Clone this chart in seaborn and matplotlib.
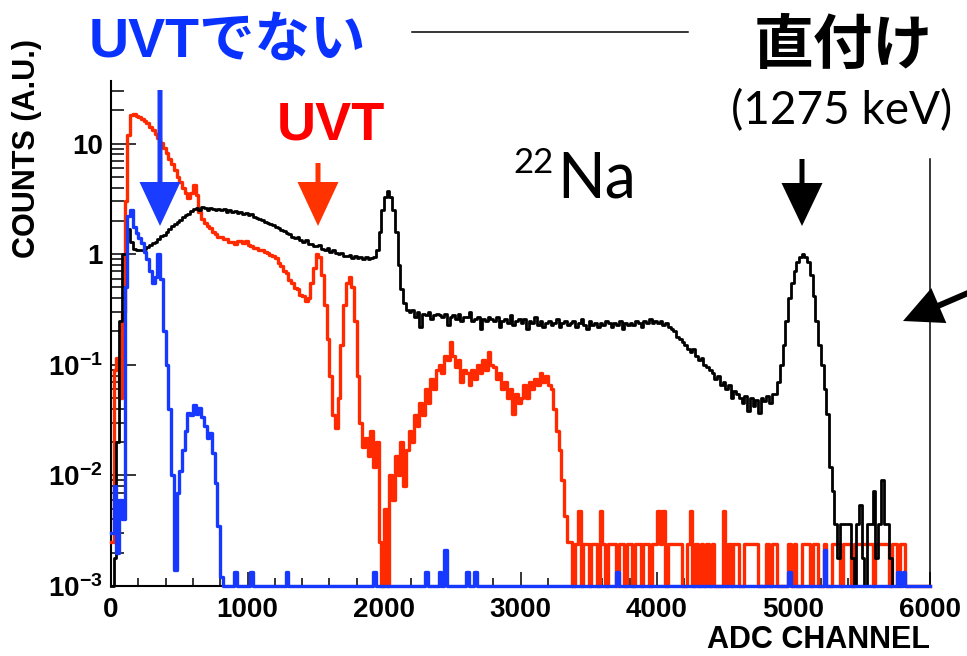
import numpy as np
import matplotlib
matplotlib.use("Agg")
import matplotlib.pyplot as plt
import seaborn as sns
from matplotlib.patches import FancyArrow
from matplotlib.lines import Line2D
from matplotlib.transforms import IdentityTransform
from matplotlib.ticker import LogLocator, NullFormatter, MultipleLocator

W, H = 967, 656
BIN = 20          # ADC channels per histogram bin
X_MAX = 6000
Y_MIN, Y_MAX = 1e-3, 36.8

# black: 22Na, direct coupling (bins of 20 channels, 0..6000)
black_counts = [
    0, 0.0018, 0.02, 0.25, 1.0, 1.0, 1.7, 1.3, 1.12, 1.1,
    1.08, 1.1, 1.12, 1.15, 1.2, 1.26, 1.3, 1.38, 1.45, 1.5,
    1.6, 1.68, 1.78, 1.88, 1.95, 2.05, 2.15, 2.25, 2.32, 2.45,
    2.55, 2.62, 2.5, 2.65, 2.6, 2.52, 2.64, 2.58, 2.5, 2.58,
    2.5, 2.56, 2.42, 2.5, 2.42, 2.47, 2.36, 2.41, 2.32, 2.36,
    2.25, 2.29, 2.16, 2.13, 2.08, 2.03, 1.96, 1.93, 1.88, 1.85,
    1.76, 1.73, 1.64, 1.61, 1.54, 1.51, 1.44, 1.41, 1.42, 1.34,
    1.3, 1.33, 1.24, 1.23, 1.19, 1.18, 1.2, 1.11, 1.1, 1.13,
    1.04, 1.08, 1.02, 1.01, 1.02, 0.97, 0.96, 0.99, 0.93, 0.96,
    0.93, 0.95, 0.91, 0.94, 0.91, 0.93, 0.95, 1.1, 1.6, 2.5,
    3.3, 3.7, 3.3, 2.5, 1.6, 0.8, 0.48, 0.36, 0.31, 0.3,
    0.31, 0.27, 0.3, 0.22, 0.29, 0.28, 0.3, 0.26, 0.28, 0.29,
    0.28, 0.27, 0.29, 0.23, 0.27, 0.28, 0.26, 0.29, 0.25, 0.27,
    0.27, 0.3, 0.25, 0.26, 0.27, 0.21, 0.26, 0.25, 0.27, 0.26,
    0.25, 0.27, 0.22, 0.25, 0.26, 0.24, 0.28, 0.23, 0.25, 0.26,
    0.24, 0.26, 0.21, 0.25, 0.24, 0.27, 0.23, 0.25, 0.22, 0.24,
    0.25, 0.23, 0.24, 0.26, 0.22, 0.24, 0.25, 0.23, 0.24, 0.25,
    0.22, 0.24, 0.26, 0.23, 0.21, 0.25, 0.23, 0.24, 0.22, 0.24,
    0.23, 0.25, 0.24, 0.22, 0.24, 0.23, 0.25, 0.21, 0.24, 0.23,
    0.24, 0.23, 0.25, 0.24, 0.22, 0.25, 0.24, 0.26, 0.24, 0.25,
    0.24, 0.25, 0.23, 0.24, 0.22, 0.21, 0.2, 0.18, 0.17, 0.16,
    0.15, 0.14, 0.13, 0.14, 0.12, 0.11, 0.115, 0.1, 0.095, 0.09,
    0.085, 0.075, 0.08, 0.065, 0.07, 0.06, 0.065, 0.05, 0.058, 0.055,
    0.05, 0.045, 0.052, 0.038, 0.05, 0.042, 0.048, 0.037, 0.05, 0.047,
    0.052, 0.045, 0.055, 0.055, 0.07, 0.1, 0.15, 0.25, 0.4, 0.55,
    0.7, 0.85, 0.95, 1.0, 0.95, 0.85, 0.65, 0.42, 0.25, 0.15,
    0.1, 0.06, 0.036, 0.012, 0.0072, 0.0036, 0.0018, 0.0036, 0.0036, 0.0036,
    0.0036, 0.0018, 0, 0.0036, 0.0054, 0.0018, 0, 0.0036, 0.0036, 0.0072,
    0.0018, 0.0036, 0.009, 0.0036, 0.0036, 0.0018, 0, 0, 0, 0,
    0, 0, 0, 0, 0, 0, 0, 0, 0, 0,
]

# red: UVT light guide, bins 0..169 as values
red_counts_head = [
    0.0025, 0.09, 0.115, 0.05, 0.3, 3.0, 12.0, 18.0, 18.5, 17.8,
    17.5, 16.8, 16.0, 15.3, 14.2, 13.2, 12.2, 11.2, 10.2, 9.2,
    8.2, 7.3, 6.5, 5.8, 5.0, 4.5, 4.0, 3.6, 3.2, 3.6,
    4.2, 3.4, 2.4, 2.1, 1.9, 1.8, 1.72, 1.58, 1.53, 1.44,
    1.43, 1.36, 1.36, 1.28, 1.29, 1.24, 1.31, 1.32, 1.26, 1.31,
    1.21, 1.19, 1.14, 1.13, 1.09, 1.09, 1.04, 1.03, 0.99, 0.97,
    0.92, 0.84, 0.79, 0.71, 0.67, 0.59, 0.55, 0.49, 0.48, 0.43,
    0.42, 0.38, 0.4, 0.55, 0.75, 1.0, 0.95, 0.65, 0.35, 0.17,
    0.08, 0.035, 0.027, 0.05, 0.15, 0.35, 0.55, 0.62, 0.5, 0.25,
    0.08, 0.03, 0.018, 0.022, 0.015, 0.025, 0.012, 0.02, 0.0025, 0,
    0.005, 0, 0.01, 0.006, 0.015, 0.01, 0.02, 0.008, 0.017, 0.025,
    0.02, 0.035, 0.028, 0.045, 0.035, 0.06, 0.045, 0.075, 0.06, 0.09,
    0.1, 0.085, 0.12, 0.11, 0.16, 0.12, 0.095, 0.11, 0.07, 0.09,
    0.085, 0.065, 0.09, 0.075, 0.1, 0.085, 0.11, 0.09, 0.13, 0.1,
    0.095, 0.075, 0.085, 0.06, 0.07, 0.05, 0.06, 0.036, 0.055, 0.045,
    0.05, 0.065, 0.05, 0.07, 0.06, 0.075, 0.065, 0.085, 0.07, 0.08,
    0.065, 0.06, 0.04, 0.025, 0.017, 0.009, 0.0043, 0.0025, 0.0025, 0,
]
# red tail, bins 170..299, raw entries per bin
red_tail_entries = [
    1, 2, 0, 1, 1, 0, 1, 1, 0, 2,
    1, 0, 1, 1, 1, 0, 1, 1, 0, 1,
    1, 0, 1, 1, 0, 1, 1, 0, 1, 1,
    2, 1, 2, 0, 1, 1, 1, 1, 1, 0,
    0, 1, 2, 0, 1, 0, 1, 0, 1, 0,
    1, 0, 0, 0, 2, 0, 1, 0, 1, 1,
    0, 0, 1, 1, 1, 1, 1, 0, 0, 0,
    1, 0, 1, 1, 0, 0, 0, 0, 1, 0,
    1, 0, 0, 1, 1, 1, 0, 1, 1, 0,
    0, 1, 0, 0, 1, 1, 1, 0, 1, 1,
    1, 0, 1, 1, 1, 1, 1, 1, 1, 0,
    1, 1, 1, 1, 1, 0, 1, 1, 0, 1,
    1, 0, 0, 0, 0, 0, 0, 0, 0, 0,
]
RED_ENTRY = 0.0024

# blue: non-UVT light guide, bins 0..40, then isolated entries
blue_counts_head = [
    0.003, 0.008, 0.002, 0.006, 0.004, 0.5, 2.2, 2.5, 1.75, 1.55,
    1.4, 1.25, 1.05, 0.9, 0.7, 0.55, 0.62, 1.0, 0.6, 0.2,
    0.1, 0.04, 0.01, 0.0014, 0.007, 0.011, 0.017, 0.025, 0.037, 0.035,
    0.043, 0.036, 0.041, 0.034, 0.028, 0.022, 0.024, 0.016, 0.0085, 0.0035,
    0.0012,
]
blue_spike_channels = [900, 1020, 1280, 1920, 2300, 2400, 2440, 2600, 2660,
                       3700, 4960, 5220, 5760, 5800]
blue_spike_counts = [0.00135, 0.00135, 0.00135, 0.00135, 0.00135, 0.00135, 0.0021,
                     0.00135, 0.00135, 0.00135, 0.00135, 0.0021, 0.00135, 0.00135]

RED = "#ff2a00"
BLUE = "#1638ff"

n_bins = X_MAX // BIN
edges = np.arange(0, X_MAX + BIN, BIN)
black = np.array(black_counts, dtype=float)
red = np.array(red_counts_head + [c * RED_ENTRY for c in red_tail_entries], dtype=float)
blue = np.zeros(n_bins)
blue[:len(blue_counts_head)] = blue_counts_head
for ch, v in zip(blue_spike_channels, blue_spike_counts):
    blue[ch // BIN] = v

plt.rcParams["font.family"] = ["Liberation Sans", "Noto Sans CJK JP", "DejaVu Sans"]
plt.rcParams["font.weight"] = "bold"
plt.rcParams["mathtext.fontset"] = "custom"
plt.rcParams["mathtext.rm"] = "Liberation Sans:bold"
plt.rcParams["mathtext.bf"] = "Liberation Sans:bold"
plt.rcParams["mathtext.default"] = "bf"

fig = plt.figure(figsize=(W / 100, H / 100), dpi=100)
ax = fig.add_axes([111 / W, (H - 586) / H, 819 / W, 505 / H])


def draw_hist(values, color, lw, z):
    # empty bins sit on the axis floor, like ROOT does on a log scale
    y = np.where(values > 0, values, Y_MIN)
    xs = np.append(edges[:-1], edges[-1])
    ys = np.append(y, y[-1])
    sns.lineplot(x=xs, y=ys, ax=ax, color=color, linewidth=lw,
                 drawstyle="steps-post", estimator=None, sort=False)
    line = ax.lines[-1]
    line.set_clip_on(False)
    line.set_zorder(z)


draw_hist(red, RED, 2.4, 3)
draw_hist(black, "black", 2.0, 4)
draw_hist(blue, BLUE, 2.4, 5)

ax.set_yscale("log")
ax.set_xlim(0, X_MAX)
ax.set_ylim(Y_MIN, Y_MAX)
ax.set_xlabel("")
ax.set_ylabel("")

ax.set_xticks(range(0, 7000, 1000))
ax.xaxis.set_minor_locator(MultipleLocator(200))
ax.set_yticks([1e-3, 1e-2, 1e-1, 1, 10],
              labels=[r"$10^{-3}$", r"$10^{-2}$", r"$10^{-1}$", "1", "10"])
ax.yaxis.set_minor_locator(LogLocator(base=10, subs=(2, 3, 4, 5, 6, 7, 8, 9), numticks=20))
ax.yaxis.set_minor_formatter(NullFormatter())

ax.tick_params(axis="both", which="both", direction="in", width=1.1, labelsize=20)
ax.tick_params(axis="x", which="major", length=10, pad=8)
ax.tick_params(axis="x", which="minor", length=6)
ax.tick_params(axis="y", which="major", length=18, pad=6)
ax.tick_params(axis="y", which="minor", length=9)
for lab in ax.get_xticklabels() + ax.get_yticklabels():
    lab.set_fontweight("bold")

ax.spines["top"].set_visible(False)
ax.spines["left"].set_linewidth(1.5)
ax.spines["bottom"].set_linewidth(1.5)
ax.spines["right"].set_linewidth(1.1)
ax.spines["right"].set_bounds(Y_MIN, 7.26)


def fpx(x, y):
    return x / W, 1 - y / H


fig.text(*fpx(930, 648), "ADC CHANNEL", ha="right", va="baseline",
         fontsize=22, fontweight="bold")
fig.text(*fpx(27, 148), "COUNTS (A.U.)", ha="center", va="center",
         rotation=90, fontsize=22, fontweight="bold")

fig.text(*fpx(89, 57), "UVTでない", ha="left", va="baseline", fontsize=40,
         fontweight="bold", color="#0a32ff",
         family=["Liberation Sans", "Noto Sans CJK JP"])
fig.text(*fpx(331, 140), "UVT", ha="center", va="baseline", fontsize=39,
         fontweight="bold", color="#ff0000", family="Liberation Sans")
fig.text(*fpx(843, 47), "直付け", ha="center", va="center", fontsize=43,
         fontweight="bold", color="black", family=["Noto Sans CJK JP", "DejaVu Sans"])
fig.text(*fpx(842, 111), "(1275 keV)", ha="center", va="center", fontsize=33,
         fontweight="normal", color="black", family="Lato")
fig.text(*fpx(513, 173), "22", ha="left", va="baseline", fontsize=25,
         fontweight="normal", family="Lato")
fig.text(*fpx(557, 198), "Na", ha="left", va="baseline", fontsize=45,
         fontweight="normal", family="Lato")


def arrow(x0, y0, x1, y1, color, width, head_w, head_l):
    fig.add_artist(FancyArrow(x0, H - y0, x1 - x0, -(y1 - y0), width=width,
                              head_width=head_w, head_length=head_l,
                              length_includes_head=True, color=color, lw=0,
                              transform=IdentityTransform(), zorder=10))


arrow(160, 90, 160, 226, "#1a3cff", 5, 41, 44)
arrow(318, 163, 318, 226, "#ff3300", 5, 41, 44)
arrow(802, 159, 802, 226, "black", 5, 41, 43)
arrow(975, 290, 903, 321, "black", 6, 38, 39)

fig.add_artist(Line2D([412, 688], [H - 32, H - 32], color="black", lw=1.1,
                      transform=IdentityTransform()))

fig.savefig("out.png", dpi=100)
